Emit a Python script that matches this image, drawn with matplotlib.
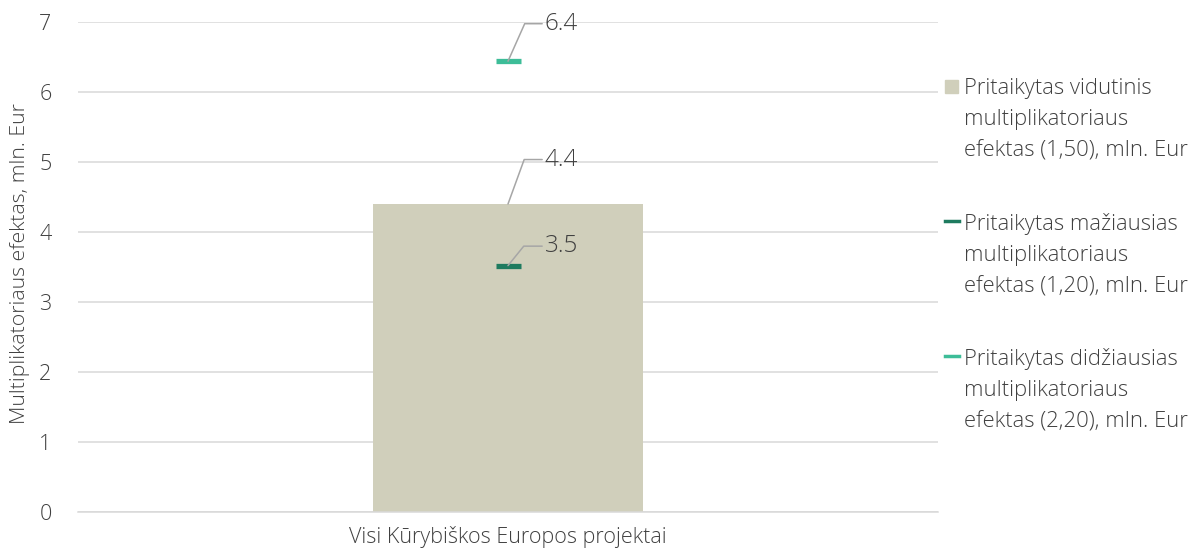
import matplotlib.pyplot as plt
from matplotlib.patches import Rectangle
from matplotlib.lines import Line2D

plt.rcParams['font.family'] = ['Open Sans', 'DejaVu Sans']
plt.rcParams['font.weight'] = 'light'
plt.rcParams['axes.labelweight'] = 'light'

# data
category = ["Visi Kūrybiškos Europos projektai"]
avg_effect = [4.40]   # (1,50)
min_effect = [3.52]   # (1,20)
max_effect = [6.44]   # (2,20)
legend_labels = [
    "Pritaikytas vidutinis\nmultiplikatoriaus\nefektas (1,50), mln. Eur",
    "Pritaikytas mažiausias\nmultiplikatoriaus\nefektas (1,20), mln. Eur",
    "Pritaikytas didžiausias\nmultiplikatoriaus\nefektas (2,20), mln. Eur",
]
y_label = "Multiplikatoriaus efektas, mln. Eur"

bar_color = '#D0CFBB'
min_color = '#1E7B5F'
max_color = '#3DBD98'
text_color = '#404040'
grid_color = '#D9D9D9'

W, H = 1199, 557
fig = plt.figure(figsize=(W / 100, H / 100), dpi=100)
ax = fig.add_axes([78 / W, 1 - 512 / H, 860 / W, 490 / H])

x = list(range(len(category)))
ax.bar(x, avg_effect, width=0.313, color=bar_color, zorder=2)
ax.plot(x, min_effect, linestyle='none', marker='_', markersize=18, mew=3.8, color=min_color, zorder=3)
ax.plot(x, max_effect, linestyle='none', marker='_', markersize=18, mew=3.8, color=max_color, zorder=3)

# data labels with leader lines
def label(v, dy, ang):
    ax.annotate(f"{v:.1f}", xy=(0, v), xytext=(26.6, dy), textcoords='offset points',
                ha='left', va='center', fontsize=17.5, color=text_color,
                arrowprops=dict(arrowstyle='-', color='#A6A6A6', lw=1.1,
                                connectionstyle=f'angle,angleA=0,angleB={ang}',
                                relpos=(0, 0.5), shrinkA=0, shrinkB=0),
                zorder=4)

label(max_effect[0], 27, 66)
label(avg_effect[0], 32, 70)
label(min_effect[0], 14, 51)

ax.set_xlim(-0.5, 0.5)
ax.set_ylim(0, 7)
ax.set_yticks(range(0, 8))
ax.set_xticks(x)
ax.set_xticklabels(category)
ax.tick_params(axis='both', length=0, labelsize=15.5, colors=text_color)
ax.tick_params(axis='y', pad=19)
ax.tick_params(axis='x', pad=10)
ax.grid(axis='y', color=grid_color, lw=1.1, zorder=0)
for s in ['top', 'right', 'left']:
    ax.spines[s].set_visible(False)
ax.spines['bottom'].set_color(grid_color)
ax.spines['bottom'].set_linewidth(1.1)
ax.set_ylabel(y_label, fontsize=15.3, color=text_color, va='center')
ax.yaxis.set_label_coords(-0.0674, 0.508)

# legend drawn by hand (handle aligned with first line)
handles = ['patch', min_color, max_color]
for i, (lab, h) in enumerate(zip(legend_labels, handles)):
    yc = 86 + i * 135
    if h == 'patch':
        fig.add_artist(Rectangle((945 / W, 1 - (yc + 7) / H), 13 / W, 13 / H,
                                 transform=fig.transFigure, color=bar_color))
    else:
        fig.add_artist(Line2D([945 / W, 959 / W], [1 - yc / H] * 2,
                              transform=fig.transFigure, color=h, lw=2.5))
    fig.text(964 / W, 1 - (yc - 8) / H, lab, ha='left', va='top', fontsize=15.8,
             color=text_color, linespacing=1.63)

fig.savefig('out.png', dpi=100)
